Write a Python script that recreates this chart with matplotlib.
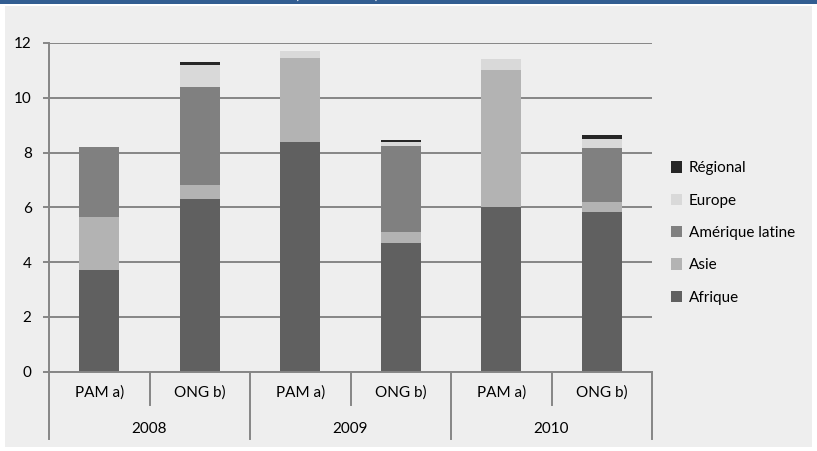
import numpy as np
import matplotlib
matplotlib.use('Agg')
import matplotlib.pyplot as plt
from matplotlib.patches import Rectangle
from matplotlib.lines import Line2D
import matplotlib.transforms as mtransforms

plt.rcParams['font.family'] = ['Lato', 'DejaVu Sans']

# ── Data ──────────────────────────────────────────────────────────────────────
sub_labels = ['PAM a)', 'ONG b)', 'PAM a)', 'ONG b)', 'PAM a)', 'ONG b)']
years = ['2008', '2009', '2010']

afrique  = [3.70, 6.30, 8.40, 4.70, 6.00, 5.83]
asie     = [1.95, 0.50, 3.05, 0.40, 5.00, 0.38]
amerique = [2.55, 3.60, 0.00, 3.15, 0.00, 1.97]
europe   = [0.00, 0.80, 0.25, 0.12, 0.40, 0.30]
regional = [0.00, 0.10, 0.00, 0.10, 0.00, 0.15]

series = [('Afrique', afrique, '#606060'),
          ('Asie', asie, '#b3b3b3'),
          ('Amérique latine', amerique, '#808080'),
          ('Europe', europe, '#d9d9d9'),
          ('Régional', regional, '#262626')]

FS = 11
GRID = '#868686'
LW = 1.4

# ── Figure ────────────────────────────────────────────────────────────────────
W, H = 817, 451
fig = plt.figure(figsize=(W / 100, H / 100), dpi=100)
fig.patch.set_facecolor('white')

# blue banner at the top, grey panel below
fig.patches.append(Rectangle((0, (H - 4) / H), 1, 4 / H, transform=fig.transFigure,
                             facecolor='#325d91', edgecolor='none', zorder=-10))
fig.patches.append(Rectangle((5 / W, 4 / H), 807 / W, (H - 10) / H, transform=fig.transFigure,
                             facecolor='#eeeeee', edgecolor='none', zorder=-10))
fig.text(337 / W, (H + 1.5) / H, '(2008-2010)', color='white', fontsize=11,
         ha='center', va='baseline')

x0, x1, y0, y1 = 49, 652, 371.5, 43
ax = fig.add_axes([x0 / W, (H - y0) / H, (x1 - x0) / W, (y0 - y1) / H])
ax.set_facecolor('none')

x = np.arange(len(sub_labels))
bottom = np.zeros(len(x))
handles = []
for name, vals, col in series:
    vals = np.array(vals)
    b = ax.bar(x, vals, 0.4, bottom=bottom, color=col, edgecolor='none', zorder=3, label=name)
    handles.append(b)
    bottom += vals

ax.set_xlim(-0.5, 5.5)
ax.set_ylim(0, 12)
ax.set_yticks(np.arange(0, 13, 2))
ax.yaxis.grid(True, color=GRID, linewidth=LW, zorder=1)
ax.set_axisbelow(True)
ax.tick_params(axis='y', length=4.5, width=LW, color=GRID, labelsize=FS, pad=8)
ax.set_xticks([])
for s in ['top', 'right', 'bottom']:
    ax.spines[s].set_visible(False)
ax.spines['left'].set_color(GRID)
ax.spines['left'].set_linewidth(LW)

# two-level category axis
trans = mtransforms.blended_transform_factory(ax.transData, ax.transAxes)
ah = y0 - y1
ax.add_line(Line2D([-0.5, 5.5], [0, 0], transform=trans, color=GRID,
                   lw=LW, clip_on=False, zorder=4))
for xb in [-0.5, 1.5, 3.5, 5.5]:
    ax.add_line(Line2D([xb, xb], [0, -67.5 / ah], transform=trans, color=GRID,
                       lw=LW, clip_on=False))
for xb in [0.5, 2.5, 4.5]:
    ax.add_line(Line2D([xb, xb], [0, -33 / ah], transform=trans, color=GRID,
                       lw=LW, clip_on=False))
for i, lab in enumerate(sub_labels):
    ax.text(i, -21.5 / ah, lab, transform=trans, ha='center', va='center', fontsize=FS)
for i, yr in enumerate(years):
    ax.text(2 * i + 0.5, -57.5 / ah, yr, transform=trans, ha='center', va='center', fontsize=FS)

leg = fig.legend(handles[::-1], [s[0] for s in series][::-1],
                 loc='center left', bbox_to_anchor=(671 / W, (H - 233) / H),
                 frameon=False, fontsize=FS, handlelength=0.75, handleheight=0.75,
                 handletextpad=0.4, labelspacing=1.2, borderpad=0, borderaxespad=0)

fig.savefig('out.png', dpi=100, facecolor=fig.get_facecolor())
